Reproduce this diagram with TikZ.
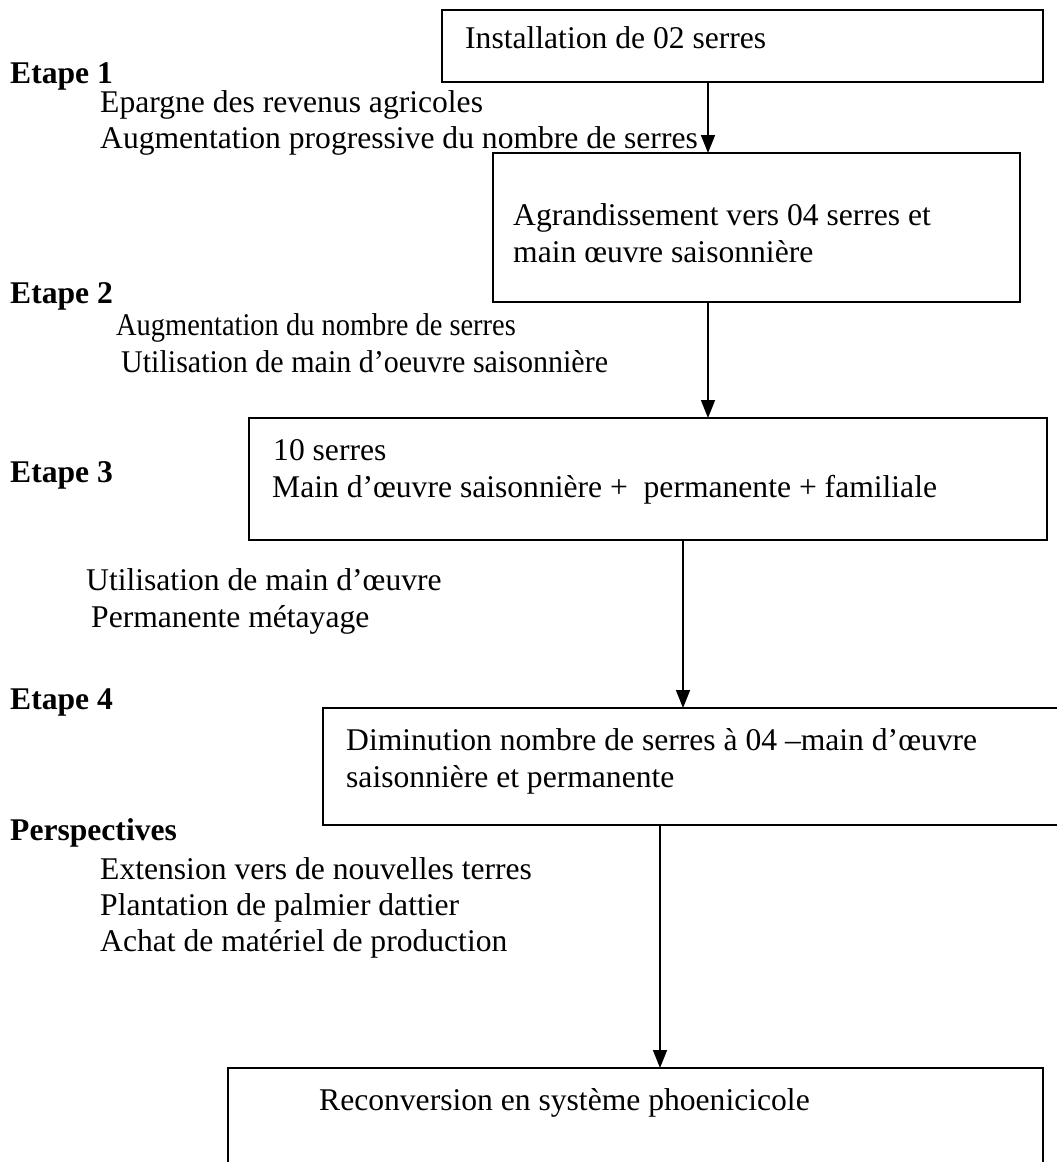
\documentclass[tikz,border=0pt]{standalone}
\usepackage{fontspec}
\setmainfont{Liberation Serif}
\usetikzlibrary{arrows.meta}
\begin{document}
\begin{tikzpicture}[x=1pt,y=-1pt,
  every node/.style={font=\fontsize{31.6}{37}\selectfont},
  stagebox/.style={draw,line width=1.6pt,anchor=north west,inner sep=0pt,outer sep=0pt},
  txt/.style={anchor=base west,inner sep=0pt},
  head/.style={txt,font=\fontsize{31.6}{37}\selectfont\bfseries},
  flow/.style={line width=1.6pt,-{Triangle[length=18pt,width=14pt]}}]
\useasboundingbox[fill=white] (0,0) rectangle (1057,1162);
% stage boxes
\node[stagebox,minimum width=601pt,minimum height=72pt] (b1) at (442,10) {};
\node[stagebox,minimum width=527pt,minimum height=149pt] (b2) at (493,153) {};
\node[stagebox,minimum width=798pt,minimum height=122pt] (b3) at (249,418) {};
\node[stagebox,minimum width=760pt,minimum height=117pt] (b4) at (323,708) {};
\node[stagebox,minimum width=815pt,minimum height=110pt] (b5) at (228,1068) {};
% box texts
\node[txt] (t1) at (465,48) {Installation de 02 serres};
\node[txt] (t2a) at (513,225) {Agrandissement vers 04 serres et};
\node[txt] (t2b) at (513,262) {main œuvre saisonnière};
\node[txt] (t3a) at (273,460) {10 serres};
\node[txt] (t3b) at (272,497) {Main d’œuvre saisonnière +\ \ permanente + familiale};
\node[txt] (t4a) at (346,750) {Diminution nombre de serres à 04 –main d’œuvre};
\node[txt] (t4b) at (346,787) {saisonnière et permanente};
\node[txt] (t5) at (319,1110) {Reconversion en système phoenicicole};
% stage headings and notes
\node[head] (h1) at (10,83) {Etape 1};
\node[txt] (n1a) at (100,112) {Epargne des revenus agricoles};
\node[txt] (n1b) at (100,148) {Augmentation progressive du nombre de serres};
\node[head] (h2) at (10,303) {Etape 2};
\node[txt] (n2a) at (116,335) {\scalebox{0.9}[1]{Augmentation du nombre de serres}};
\node[txt] (n2b) at (121,372) {\scalebox{0.95}[1]{Utilisation de main d’oeuvre saisonnière}};
\node[head] (h3) at (10,482) {Etape 3};
\node[txt] (n3a) at (86,590) {Utilisation de main d'œuvre};
\node[txt] (n3b) at (91,627) {Permanente métayage};
\node[head] (h4) at (10,709) {Etape 4};
\node[head] (h5) at (10,840) {Perspectives};
\node[txt] (n5a) at (100,879) {Extension vers de nouvelles terres};
\node[txt] (n5b) at (100,915) {Plantation de palmier dattier};
\node[txt] (n5c) at (100,951) {Achat de matériel de production};
% connector columns
\coordinate (c1) at (708,0);
\coordinate (c2) at (708,0);
\coordinate (c3) at (683,0);
\coordinate (c4) at (660,0);
\draw[flow] (b1.south -| c1) -- (b2.north -| c1);
\draw[flow] (b2.south -| c2) -- (b3.north -| c2);
\draw[flow] (b3.south -| c3) -- (b4.north -| c3);
\draw[flow] (b4.south -| c4) -- (b5.north -| c4);
\end{tikzpicture}
\end{document}
